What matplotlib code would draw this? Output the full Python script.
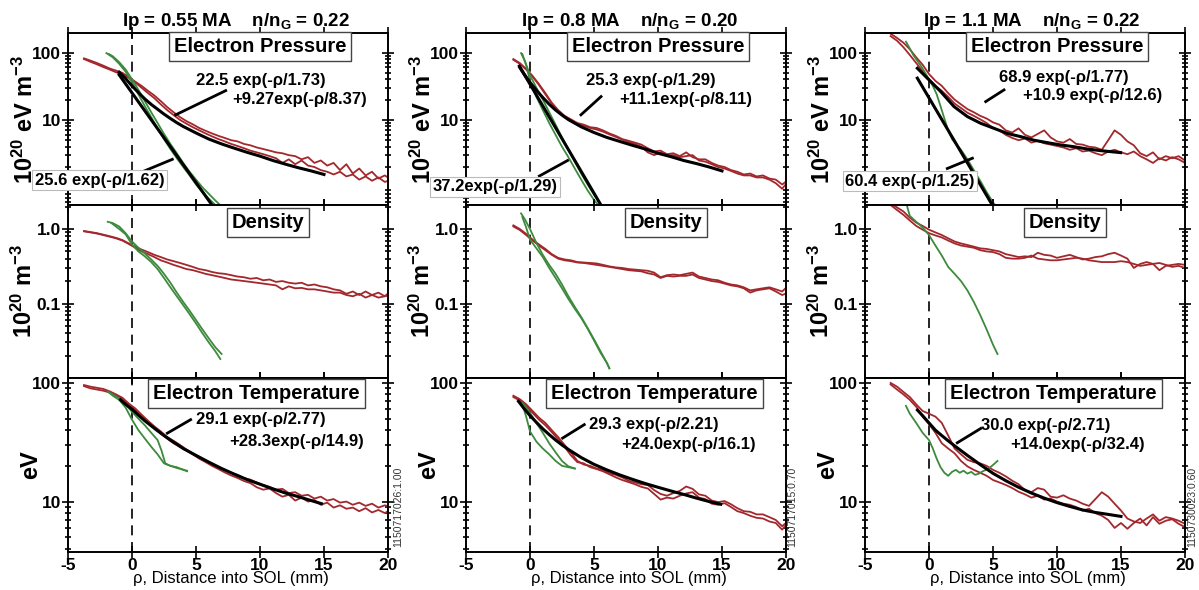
import matplotlib.pyplot as plt
from matplotlib.ticker import LogLocator, NullFormatter

plt.rcParams['font.family'] = ['Liberation Sans', 'DejaVu Sans']
plt.rcParams['mathtext.default'] = 'regular'
plt.rcParams['axes.unicode_minus'] = False

RED = '#a3282d'
GREEN = '#3d8a3d'

# ---------------- column 1 : Ip = 0.55 MA ----------------
RHO_C1 = [-3.75, -3.25, -2.75, -2.25, -1.75, -1.25, -0.75, -0.25, 0.25, 0.75,
          1.25, 1.75, 2.25, 2.75, 3.25, 3.75, 4.25, 4.75, 5.25, 5.75,
          6.25, 6.75, 7.25, 7.75, 8.25, 8.75, 9.25, 9.75, 10.25, 10.75,
          11.25, 11.75, 12.25, 12.75, 13.25, 13.75, 14.25, 14.75, 15.25, 15.75,
          16.25, 16.75, 17.25, 17.75, 18.25, 18.75, 19.25, 19.75, 20.25]
PE1_A = [82, 76, 70, 64, 58, 54, 50, 43, 37, 32, 27, 23, 19, 15.5, 13, 11, 9.6, 8.6, 7.6, 6.9,
         6.3, 5.8, 5.4, 5.0, 4.8, 4.4, 4.2, 3.9, 3.7, 3.5, 3.3, 3.2, 3.0, 2.9, 2.6, 2.8, 2.3, 2.5, 2.1, 2.3,
         1.8, 2.2, 1.6, 1.9, 1.5, 1.7, 1.35, 1.5, 1.3]
PE1_B = [80, 73, 67, 61, 56, 51, 47, 42, 36, 30, 25, 21, 17, 14, 11.8, 10, 8.8, 7.8, 7.0, 6.3,
         5.7, 5.2, 4.8, 4.4, 4.1, 3.8, 3.5, 3.3, 3.1, 2.9, 2.7, 2.3, 2.6, 2.2, 2.5, 2.1, 2.0, 1.8, 1.7, 1.55,
         1.7, 1.45, 1.55, 1.3, 1.45, 1.25, 1.4, 1.2, 1.3]
NE1_A = [0.94, 0.91, 0.88, 0.84, 0.80, 0.76, 0.71, 0.64, 0.58, 0.53, 0.49, 0.45, 0.42, 0.39, 0.37, 0.35,
         0.33, 0.31, 0.29, 0.28, 0.265, 0.255, 0.25, 0.24, 0.23, 0.225, 0.215, 0.22, 0.205, 0.21,
         0.195, 0.20, 0.19, 0.185, 0.19, 0.175, 0.18, 0.17, 0.165, 0.155,
         0.15, 0.135, 0.145, 0.13, 0.145, 0.13, 0.14, 0.125, 0.15]
NE1_B = [0.93, 0.90, 0.87, 0.83, 0.79, 0.75, 0.70, 0.63, 0.56, 0.50, 0.46, 0.42, 0.38, 0.355, 0.33, 0.31,
         0.29, 0.28, 0.265, 0.25, 0.24, 0.23, 0.22, 0.21, 0.205, 0.20, 0.195, 0.19, 0.185, 0.18,
         0.175, 0.155, 0.17, 0.16, 0.162, 0.155, 0.155, 0.15, 0.145, 0.14,
         0.14, 0.13, 0.125, 0.135, 0.12, 0.13, 0.12, 0.125, 0.13]
TE1_A = [96, 93, 91, 89, 85, 80, 75, 67, 61, 54, 48, 43, 39, 35, 32.5, 30, 27.5, 25.5, 23.5, 22,
         20.5, 19.5, 18.5, 17.5, 16.8, 15.8, 15.3, 14.5, 13.8, 13.3, 12.6, 12.8, 11.8, 12.0, 11.2, 11.4,
         10.6, 11.0, 10.2, 10.5, 9.8, 10.0, 9.4, 9.8, 9.2, 9.6, 8.9, 9.3, 9.0]
TE1_B = [94, 90, 88, 86, 83, 78, 73, 65, 59, 52, 46.5, 41.5, 37.5, 34, 31, 29, 27, 25, 23, 21.5,
         20, 18.8, 17.6, 16.6, 15.8, 14.9, 14.3, 13.2, 12.6, 12.9, 11.8, 11.0, 11.4, 10.2, 10.8, 10.0,
         10.3, 9.4, 9.8, 8.9, 9.3, 8.7, 8.9, 8.3, 8.8, 8.1, 8.5, 8.0, 8.6]
# green profiles (rho, value)
PE1_G1_X = [-2.0, -1.5, -1.0, -0.5, 0.0, 0.5, 1.0, 1.5, 2.0, 2.5, 3.0, 3.5, 4.0, 4.5, 5.0, 5.5, 6.0, 6.5]
PE1_G1_Y = [98, 85, 68, 52, 36, 24, 16, 11, 7.5, 5.2, 3.7, 2.7, 2.0, 1.5, 1.1, 0.85, 0.68, 0.55]
PE1_G2_X = [-1.8, -1.5, -1.0, -0.5, 0.0, 0.5, 1.0, 1.5, 2.0, 2.5, 3.0, 3.5, 4.0, 4.5, 5.0, 5.5, 6.0, 6.5, 7.0]
PE1_G2_Y = [95, 88, 72, 56, 40, 28, 19, 13, 9, 6.2, 4.4, 3.2, 2.3, 1.7, 1.3, 1.0, 0.8, 0.64, 0.52]
NE1_G1_X = [-1.9, -1.5, -1.0, -0.5, 0.0, 0.5, 1.0, 1.5, 2.0, 2.5, 3.0, 3.5, 4.0, 4.5, 5.0, 5.5, 6.0, 6.5, 7.0]
NE1_G1_Y = [1.25, 1.2, 1.08, 0.88, 0.68, 0.56, 0.47, 0.39, 0.32, 0.25, 0.19, 0.14, 0.105, 0.08, 0.06,
            0.045, 0.034, 0.026, 0.021]
NE1_G2_X = [-1.6, -1.0, -0.5, 0.0, 0.5, 1.0, 1.5, 2.0, 2.5, 3.0, 3.5, 4.0, 4.5, 5.0, 5.5, 6.0, 6.5, 6.9]
NE1_G2_Y = [1.2, 1.0, 0.85, 0.62, 0.5, 0.43, 0.36, 0.29, 0.22, 0.165, 0.125, 0.095, 0.072, 0.054, 0.04,
            0.03, 0.023, 0.018]
TE1_G1_X = [-1.9, -1.5, -1.0, -0.5, 0.0, 0.5, 1.0, 1.5, 2.0, 2.3, 2.6, 3.0, 3.5, 4.0, 4.3]
TE1_G1_Y = [85, 80, 74, 66, 57, 50, 44, 38, 33, 27, 21, 20, 19.5, 18.5, 18.2]
TE1_G2_X = [-1.8, -1.5, -1.0, -0.5, 0.0, 0.5, 1.0, 1.5, 2.0, 2.5, 3.0, 3.5, 4.0, 4.3]
TE1_G2_Y = [83, 78, 72, 62, 49, 40, 34, 29, 25, 21, 20, 19.2, 18.6, 18.0]
# fits
PE1_FIT2_X = [-1, -0.5, 0, 0.5, 1, 1.5, 2, 2.5, 3, 3.5, 4, 5, 6, 7, 8, 9, 10, 11, 12, 13, 14, 15]
PE1_FIT2_Y = [51, 41, 32, 25.5, 20.5, 17, 14.4, 12.2, 10.5, 9.1, 8.0, 6.4, 5.2, 4.4, 3.8, 3.3, 2.9, 2.5,
              2.2, 1.95, 1.75, 1.55]
PE1_FIT1_X = [-1.0, 6.6]
PE1_FIT1_Y = [46.6, 0.44]
TE1_FIT_X = [-0.9, -0.5, 0, 0.5, 1, 1.5, 2, 2.5, 3, 4, 5, 6, 7, 8, 9, 10, 11, 12, 13, 14, 14.8]
TE1_FIT_Y = [72, 66, 60, 53.5, 48, 43.5, 39.5, 36, 33, 28, 24.5, 21.5, 19, 17, 15.3, 14, 12.8, 11.8,
             11, 10.2, 9.6]

# ---------------- column 2 : Ip = 0.8 MA ----------------
RHO_C2 = [-1.3, -0.8, -0.3, 0.2, 0.7, 1.2, 1.7, 2.2, 2.7, 3.2, 3.7, 4.2, 4.7, 5.2, 5.7, 6.2, 6.7,
          7.2, 7.7, 8.2, 8.7, 9.2, 9.7, 10.2, 10.7, 11.2, 11.7, 12.2, 12.7, 13.2, 13.7, 14.2, 14.7,
          15.2, 15.7, 16.2, 16.7, 17.2, 17.7, 18.2, 18.7, 19.2, 19.7, 20.2]
PE2_A = [80, 70, 57, 45, 34, 25, 18, 14, 11.5, 10.2, 9.0, 8.5, 7.8, 7.6, 7.0, 6.3, 5.8, 5.2, 4.9, 4.6,
         4.3, 3.8, 3.4, 3.5, 3.1, 3.2, 2.9, 3.3, 2.8, 2.6, 2.6, 2.3, 2.1, 2.0, 1.8, 1.7, 1.55, 1.6,
         1.45, 1.5, 1.35, 1.3, 1.1, 1.3]
PE2_B = [78, 68, 56, 44, 33, 24, 17.5, 13.5, 11.2, 9.8, 8.8, 8.2, 7.6, 7.2, 6.7, 6.1, 5.6, 5.1, 4.7,
         4.4, 4.0, 3.3, 3.0, 3.3, 3.0, 3.0, 2.8, 2.9, 3.0, 2.5, 2.4, 2.2, 2.0, 1.9, 1.75, 1.6, 1.5,
         1.5, 1.4, 1.4, 1.3, 1.15, 0.95, 1.25]
NE2_A = [1.12, 1.0, 0.86, 0.72, 0.62, 0.54, 0.46, 0.41, 0.39, 0.38, 0.36, 0.355, 0.35, 0.345, 0.33,
         0.315, 0.305, 0.30, 0.29, 0.285, 0.28, 0.275, 0.26, 0.225, 0.24, 0.245, 0.24, 0.25, 0.26,
         0.23, 0.22, 0.21, 0.205, 0.19, 0.18, 0.175, 0.165, 0.15, 0.155, 0.16, 0.165, 0.155, 0.145, 0.175]
NE2_B = [1.08, 0.97, 0.83, 0.70, 0.60, 0.52, 0.45, 0.40, 0.38, 0.37, 0.355, 0.35, 0.34, 0.33, 0.32,
         0.31, 0.30, 0.29, 0.28, 0.275, 0.27, 0.255, 0.245, 0.22, 0.235, 0.23, 0.235, 0.235, 0.245,
         0.22, 0.21, 0.20, 0.195, 0.185, 0.175, 0.17, 0.16, 0.14, 0.15, 0.155, 0.16, 0.145, 0.13, 0.14]
TE2_A = [78, 73, 66, 58, 51, 46, 40, 35, 30, 26, 22, 20.5, 20, 19, 18.5, 17.3, 16.8, 16.0, 15.0, 14.5,
         14.0, 13.8, 12.5, 11.6, 11.2, 11.8, 12.3, 13.4, 12.8, 11.5, 11.2, 10.2, 9.9, 10.1, 9.5, 8.8,
         8.3, 8.2, 7.8, 7.8, 7.4, 7.0, 6.2, 6.9]
TE2_B = [76, 71, 64, 56, 49, 44, 38.5, 33.5, 29, 24.5, 21.5, 21, 19.5, 18.8, 18, 17.0, 16.0, 15.2,
         14.6, 14.0, 13.3, 12.9, 11.6, 10.4, 10.8, 10.6, 11.2, 11.7, 12.0, 10.8, 10.5, 9.6, 9.4, 9.7,
         9.0, 8.3, 8.0, 7.6, 7.3, 7.2, 6.8, 6.6, 5.8, 6.8]
PE2_G1_X = [-0.7, -0.4, 0, 0.5, 1, 1.5, 2, 2.5, 3, 3.5, 4, 4.5, 5, 5.5, 6.0]
PE2_G1_Y = [98, 75, 46, 30, 20, 13, 8.5, 5.5, 3.6, 2.4, 1.6, 1.1, 0.78, 0.56, 0.4]
PE2_G2_X = [-0.6, -0.3, 0, 0.5, 1, 1.5, 2, 2.5, 3, 3.5, 4, 4.5, 5, 5.5, 5.9]
PE2_G2_Y = [95, 65, 38, 22, 14, 9, 6, 4, 2.8, 1.9, 1.3, 0.9, 0.65, 0.5, 0.4]
NE2_G1_X = [-0.7, -0.4, 0, 0.5, 1, 1.5, 2, 2.5, 3, 3.5, 4, 4.5, 5, 5.5, 6, 6.2]
NE2_G1_Y = [1.62, 1.35, 1.0, 0.65, 0.45, 0.33, 0.25, 0.18, 0.125, 0.09, 0.066, 0.047, 0.033, 0.023,
            0.016, 0.0135]
NE2_G2_X = [-0.6, -0.3, 0, 0.5, 1, 1.5, 2, 2.5, 3, 3.5, 4, 4.5, 5, 5.5, 6, 6.2]
NE2_G2_Y = [1.45, 1.05, 0.72, 0.55, 0.42, 0.3, 0.22, 0.16, 0.115, 0.085, 0.064, 0.046, 0.032, 0.022,
            0.016, 0.0135]
TE2_G1_X = [-0.6, -0.3, 0, 0.5, 1, 1.5, 2, 2.5, 3, 3.5]
TE2_G1_Y = [68, 62, 56, 46, 38, 31, 26, 22, 19.8, 19]
TE2_G2_X = [-0.6, -0.3, 0, 0.5, 1, 1.5, 2, 2.5, 3, 3.5]
TE2_G2_Y = [66, 52, 39, 32, 28, 25, 22, 20, 19.5, 19]
PE2_FIT2_X = [-0.8, -0.5, 0, 0.5, 1, 1.5, 2, 2.5, 3, 4, 5, 6, 7, 8, 9, 10, 11, 12, 13, 14, 15]
PE2_FIT2_Y = [60, 49, 36, 27.6, 21.5, 17.1, 14, 11.8, 10.1, 7.9, 6.5, 5.5, 4.8, 4.2, 3.7, 3.2, 2.85,
              2.5, 2.25, 2.0, 1.75]
PE2_FIT1_X = [-0.83, 5.8]
PE2_FIT1_Y = [63, 0.45]
TE2_FIT_X = [-0.9, -0.5, 0, 0.5, 1, 1.5, 2, 2.5, 3, 4, 5, 6, 7, 8, 9, 10, 11, 12, 13, 14, 14.9]
TE2_FIT_Y = [70, 61.5, 53, 46.5, 41, 36.7, 33, 30, 27.5, 23.5, 20.6, 18.5, 16.8, 15.4, 14.2, 13.2,
             12.3, 11.5, 10.7, 10.0, 9.5]

# ---------------- column 3 : Ip = 1.1 MA ----------------
RHO_C3 = [-3.0, -2.5, -2.0, -1.5, -1.0, -0.5, 0.0, 0.5, 1.0, 1.5, 2.0, 2.5, 3.0, 3.5, 4.0, 4.5,
          5.0, 5.5, 6.0, 6.5, 7.0, 7.5, 8.0, 8.5, 9.0, 9.5, 10.0, 10.5, 11.0, 11.5, 12.0, 12.5,
          13.0, 13.5, 14.0, 14.5, 15.0, 15.5, 16.0, 16.5, 17.0, 17.5, 18.0, 18.5, 19.0, 19.5, 20.0]
PE3_A = [190, 165, 140, 112, 85, 66, 48, 38, 32, 25, 20, 17, 14.5, 13, 11.5, 10.5, 9.2, 8.5, 7.0, 6.5,
         7.5, 6.0, 5.5, 6.2, 7.0, 5.5, 4.8, 4.6, 5.2, 4.4, 4.3, 4.0, 3.9, 3.6, 5.0, 7.0, 6.0, 4.8,
         4.2, 3.2, 2.9, 3.3, 2.6, 2.9, 2.7, 2.9, 2.5]
PE3_B = [175, 150, 120, 92, 70, 53, 40, 32, 27, 22, 17.5, 15, 12.8, 11.5, 10.2, 9.0, 7.6, 7.0, 6.0,
         5.4, 5.0, 5.3, 4.6, 4.9, 4.5, 4.3, 4.1, 3.9, 3.6, 3.8, 3.4, 3.5, 3.2, 3.0, 3.4, 3.6, 3.3,
         3.1, 3.4, 2.9, 2.6, 2.3, 2.7, 2.5, 2.8, 2.6, 2.3]
NE3_A = [2.2, 1.95, 1.72, 1.42, 1.22, 1.10, 0.98, 0.90, 0.83, 0.75, 0.68, 0.64, 0.61, 0.58, 0.55,
         0.54, 0.52, 0.50, 0.46, 0.44, 0.42, 0.43, 0.42, 0.48, 0.45, 0.44, 0.41, 0.43, 0.45, 0.42,
         0.39, 0.40, 0.42, 0.43, 0.46, 0.48, 0.44, 0.40, 0.30, 0.34, 0.36, 0.34, 0.28, 0.32, 0.33,
         0.34, 0.33]
NE3_B = [2.1, 1.8, 1.55, 1.30, 1.10, 0.98, 0.88, 0.82, 0.77, 0.70, 0.64, 0.60, 0.58, 0.56, 0.52,
         0.50, 0.49, 0.46, 0.41, 0.40, 0.40, 0.41, 0.44, 0.40, 0.39, 0.38, 0.38, 0.39, 0.40, 0.41,
         0.40, 0.38, 0.37, 0.36, 0.36, 0.36, 0.37, 0.36, 0.34, 0.32, 0.33, 0.34, 0.35, 0.33, 0.31,
         0.32, 0.30]
TE3_A = [100, 93, 84, 76, 66, 58, 55, 52, 46, 36, 28, 25, 22.5, 21.5, 21, 20, 18.5, 17.5, 16.3, 15,
         14, 12.5, 12, 13, 12.6, 11, 10.8, 11.3, 10.6, 10.2, 9.6, 9.2, 10.5, 12.0, 11.0, 9.6, 8.4, 7.2,
         6.8, 6.6, 7.2, 7.8, 6.9, 7.4, 7.2, 6.9, 6.5]
TE3_B = [97, 88, 80, 72, 63, 52, 45, 38, 31, 28, 25.5, 22, 19.8, 18.5, 17.5, 16.5, 15.2, 14.5, 13.8,
         13, 12.1, 11.5, 10.8, 11.2, 10.4, 10.6, 10, 9.6, 9.4, 9.0, 8.4, 8.7, 8.0, 7.6, 7.0, 6.0, 6.6,
         5.9, 6.6, 7.2, 6.3, 7.4, 6.5, 6.9, 7.1, 6.5, 6.1]
PE3_G_X = [-1.8, -1.5, -1.2, -0.9, -0.6, -0.3, 0, 0.3, 0.6, 0.9, 1.2, 1.5, 1.8, 2.1, 2.5, 3, 3.5, 4,
           4.5, 5, 5.3]
PE3_G_Y = [145, 115, 90, 75, 62, 50, 40, 32, 24, 16, 10.5, 7, 5.2, 4.4, 3.6, 2.6, 1.8, 1.25, 0.85, 0.6,
           0.5]
NE3_G_X = [-1.8, -1.5, -1.0, -0.5, 0, 0.5, 1.0, 1.5, 2.0, 2.5, 3.0, 3.5, 4.0, 4.5, 5.0, 5.35]
NE3_G_Y = [2.3, 1.5, 1.25, 1.05, 0.83, 0.6, 0.44, 0.31, 0.25, 0.2, 0.15, 0.105, 0.07, 0.045, 0.028,
           0.021]
TE3_G_X = [-1.8, -1.5, -1.0, -0.5, 0, 0.3, 0.6, 0.9, 1.2, 1.5, 1.8, 2.1, 2.4, 2.7, 3.0, 3.3, 3.6,
           3.9, 4.2, 4.5, 4.8, 5.1, 5.35]
TE3_G_Y = [64, 55, 46, 38, 33, 28, 23, 19.5, 17.5, 16.5, 17.8, 18.5, 17.5, 18.2, 17.2, 17.8, 16.8,
           17.2, 18.0, 18.6, 19.5, 20.8, 22]
PE3_FIT2_X = [-0.91, 0, 0.91, 1.95, 3.0, 4.04, 5.08, 6.12, 7.16, 8.2, 9.24, 10.29, 11.33, 12.37,
              13.4, 14.97]
PE3_FIT2_Y = [58.5, 39.3, 26.4, 15.8, 11.2, 8.9, 7.5, 6.3, 5.65, 5.0, 4.6, 4.25, 4.0, 3.7, 3.5, 3.27]
PE3_FIT1_X = [-0.91, 5.3]
PE3_FIT1_Y = [41.7, 0.42]
TE3_FIT_X = [-0.9, -0.5, 0, 0.5, 1, 1.5, 2, 3, 4, 5, 6, 7, 8, 9, 10, 11, 12, 13, 14, 15]
TE3_FIT_Y = [59, 53, 46, 40, 36, 32.5, 29.5, 24.5, 20.5, 17.3, 15, 13.2, 11.8, 10.7, 9.8, 9.1, 8.5,
             8.1, 7.8, 7.5]

TITLES = ['Ip = 0.55 MA    n/n$_G$ = 0.22', 'Ip = 0.8 MA    n/n$_G$ = 0.20',
          'Ip = 1.1 MA    n/n$_G$ = 0.22']
TITLE_X = [0.525, 0.51, 0.52]
SHOT_IDS = ['1150717026:1.00', '1150717015:0.70', '1150730023:0.60']
SHOT_X = [1.031, 1.019, 1.022]

columns = [
    dict(rho=RHO_C1,
         pe=[PE1_A, PE1_B], ne=[NE1_A, NE1_B], te=[TE1_A, TE1_B],
         pe_g=[(PE1_G1_X, PE1_G1_Y), (PE1_G2_X, PE1_G2_Y)],
         ne_g=[(NE1_G1_X, NE1_G1_Y), (NE1_G2_X, NE1_G2_Y)],
         te_g=[(TE1_G1_X, TE1_G1_Y), (TE1_G2_X, TE1_G2_Y)],
         pe_fit=[(PE1_FIT2_X, PE1_FIT2_Y), (PE1_FIT1_X, PE1_FIT1_Y)],
         te_fit=[(TE1_FIT_X, TE1_FIT_Y)],
         pe_txt=[('22.5 exp(-ρ/1.73)', 5.0, 38), ('+9.27exp(-ρ/8.37)', 7.8, 19.8)],
         pe_line=[(3.41, 7.32), (11.9, 27.2)],
         pe_box=('25.6 exp(-ρ/1.62)', 0.098, 0.145),
         pe_box_line=[(0.81, 3.15), (1.7, 2.6)],
         te_txt=[('29.1 exp(-ρ/2.77)', 4.97, 49), ('+28.3exp(-ρ/14.9)', 7.58, 32)],
         te_line=[(2.76, 4.58), (37.7, 49)]),
    dict(rho=RHO_C2,
         pe=[PE2_A, PE2_B], ne=[NE2_A, NE2_B], te=[TE2_A, TE2_B],
         pe_g=[(PE2_G1_X, PE2_G1_Y), (PE2_G2_X, PE2_G2_Y)],
         ne_g=[(NE2_G1_X, NE2_G1_Y), (NE2_G2_X, NE2_G2_Y)],
         te_g=[(TE2_G1_X, TE2_G1_Y), (TE2_G2_X, TE2_G2_Y)],
         pe_fit=[(PE2_FIT2_X, PE2_FIT2_Y), (PE2_FIT1_X, PE2_FIT1_Y)],
         te_fit=[(TE2_FIT_X, TE2_FIT_Y)],
         pe_txt=[('25.3 exp(-ρ/1.29)', 4.375, 38.4), ('+11.1exp(-ρ/8.11)', 6.98, 20.3)],
         pe_line=[(3.98, 5.55), (11.9, 22.2)],
         pe_box=('37.2exp(-ρ/1.29)', 0.09, 0.105),
         pe_box_line=[(0.73, 2.94), (1.47, 2.5)],
         te_txt=[('29.3 exp(-ρ/2.21)', 4.64, 44.5), ('+24.0exp(-ρ/16.1)', 7.1, 30)],
         te_line=[(2.55, 4.24), (34.3, 44.5)]),
    dict(rho=RHO_C3,
         pe=[PE3_A, PE3_B], ne=[NE3_A, NE3_B], te=[TE3_A, TE3_B],
         pe_g=[(PE3_G_X, PE3_G_Y)],
         ne_g=[(NE3_G_X, NE3_G_Y)],
         te_g=[(TE3_G_X, TE3_G_Y)],
         pe_fit=[(PE3_FIT2_X, PE3_FIT2_Y), (PE3_FIT1_X, PE3_FIT1_Y)],
         te_fit=[(TE3_FIT_X, TE3_FIT_Y)],
         pe_txt=[('68.9 exp(-ρ/1.77)', 5.47, 43), ('+10.9 exp(-ρ/12.6)', 7.37, 22.7)],
         pe_line=[(4.43, 5.86), (18.7, 27.9)],
         pe_box=('60.4 exp(-ρ/1.25)', 0.14, 0.137),
         pe_box_line=[(1.43, 3.39), (1.9, 2.7)],
         te_txt=[('30.0 exp(-ρ/2.71)', 4.04, 44), ('+14.0exp(-ρ/32.4)', 6.38, 30)],
         te_line=[(2.21, 4.04), (31.3, 41.3)]),
]

W, H = 1199, 590
COL_LEFT = [68, 466, 865]
COL_W = 320
ROW_EDGES = [33, 205, 378, 552]
YLIMS = [(0.546, 195), (0.01, 2.1), (3.76, 110)]
YTICKS = [([10, 100], ['10', '100']), ([0.1, 1.0], ['0.1', '1.0']), ([10, 100], ['10', '100'])]
YLABELS = ['10$^{20}$ eV m$^{-3}$', '10$^{20}$ m$^{-3}$', 'eV']
YLABEL_X = [-0.093, -0.097, -0.082]
PANEL_TITLES = [('Electron Pressure', 0.60, 0.92), ('Density', 0.625, 0.90),
                ('Electron Temperature', 0.59, 0.91)]

fig = plt.figure(figsize=(11.99, 5.90), dpi=100)


def setup(ax, row):
    ax.set_yscale('log')
    ax.set_xlim(-5, 20)
    ax.set_ylim(*YLIMS[row])
    ax.set_xticks([-5, 0, 5, 10, 15, 20])
    ax.set_yticks(YTICKS[row][0])
    ax.set_yticklabels(YTICKS[row][1])
    ax.yaxis.set_minor_locator(LogLocator(base=10, subs=range(2, 10)))
    ax.yaxis.set_minor_formatter(NullFormatter())
    ax.tick_params(which='both', direction='inout', top=True, right=True, width=1.2)
    ax.tick_params(which='major', length=8, labelsize=12.5)
    ax.tick_params(which='minor', length=4)
    ax.tick_params(axis='x', pad=0.5)
    ax.tick_params(axis='y', pad=1)
    for lab in ax.get_yticklabels() + ax.get_xticklabels():
        lab.set_fontweight('bold')
    for s in ax.spines.values():
        s.set_linewidth(1.4)
    ax.axvline(0, color='black', ls=(0, (6, 4)), lw=1.2)
    ax.set_ylabel(YLABELS[row], fontsize=17, fontweight='bold')
    ax.yaxis.set_label_coords(YLABEL_X[row], 0.5)
    name, tx, ty = PANEL_TITLES[row]
    ax.text(tx, ty, name, transform=ax.transAxes, ha='center', va='center',
            fontsize=14.5, fontweight='bold', zorder=6,
            bbox=dict(boxstyle='square,pad=0.25', fc='white', ec='#444444', lw=1))
    if row < 2:
        ax.tick_params(labelbottom=False)


for c, col in enumerate(columns):
    axs = []
    for r in range(3):
        top, bot = ROW_EDGES[r], ROW_EDGES[r + 1]
        ax = fig.add_axes([COL_LEFT[c] / W, 1 - bot / H, COL_W / W, (bot - top) / H])
        setup(ax, r)
        axs.append(ax)
    ax_p, ax_n, ax_t = axs

    for key, ax in (('pe', ax_p), ('ne', ax_n), ('te', ax_t)):
        for ys in col[key]:
            ax.plot(col['rho'], ys, color=RED, lw=1.3)
        for gx, gy in col[key + '_g']:
            ax.plot(gx, gy, color=GREEN, lw=1.3)
    for fx, fy in col['pe_fit']:
        ax_p.plot(fx, fy, color='black', lw=2.2)
    for fx, fy in col['te_fit']:
        ax_t.plot(fx, fy, color='black', lw=2.2)

    # fit annotations
    for txt, x, y in col['pe_txt']:
        ax_p.text(x, y, txt, ha='left', va='center', fontsize=12, fontweight='bold')
    ax_p.plot(*col['pe_line'], color='black', lw=2)
    btxt, bx, by = col['pe_box']
    ax_p.text(bx, by, btxt, transform=ax_p.transAxes, ha='center', va='center', fontsize=12,
              fontweight='bold', zorder=5, clip_on=False,
              bbox=dict(boxstyle='square,pad=0.15', fc='white', ec='#bbbbbb', lw=0.8))
    ax_p.plot(*col['pe_box_line'], color='black', lw=2)
    for txt, x, y in col['te_txt']:
        ax_t.text(x, y, txt, ha='left', va='center', fontsize=12, fontweight='bold')
    ax_t.plot(*col['te_line'], color='black', lw=2)

    ax_p.text(TITLE_X[c], 1.067, TITLES[c], transform=ax_p.transAxes, ha='center', va='center',
              fontsize=13.5, fontweight='bold')
    ax_t.set_xlabel('ρ, Distance into SOL (mm)', fontsize=12)
    ax_t.xaxis.set_label_coords(0.51, -0.11)
    ax_t.text(SHOT_X[c], 0.26, SHOT_IDS[c], transform=ax_t.transAxes, rotation=90, ha='center',
              va='center', fontsize=7.5, color='#333333')

fig.savefig('out.png', dpi=100)
